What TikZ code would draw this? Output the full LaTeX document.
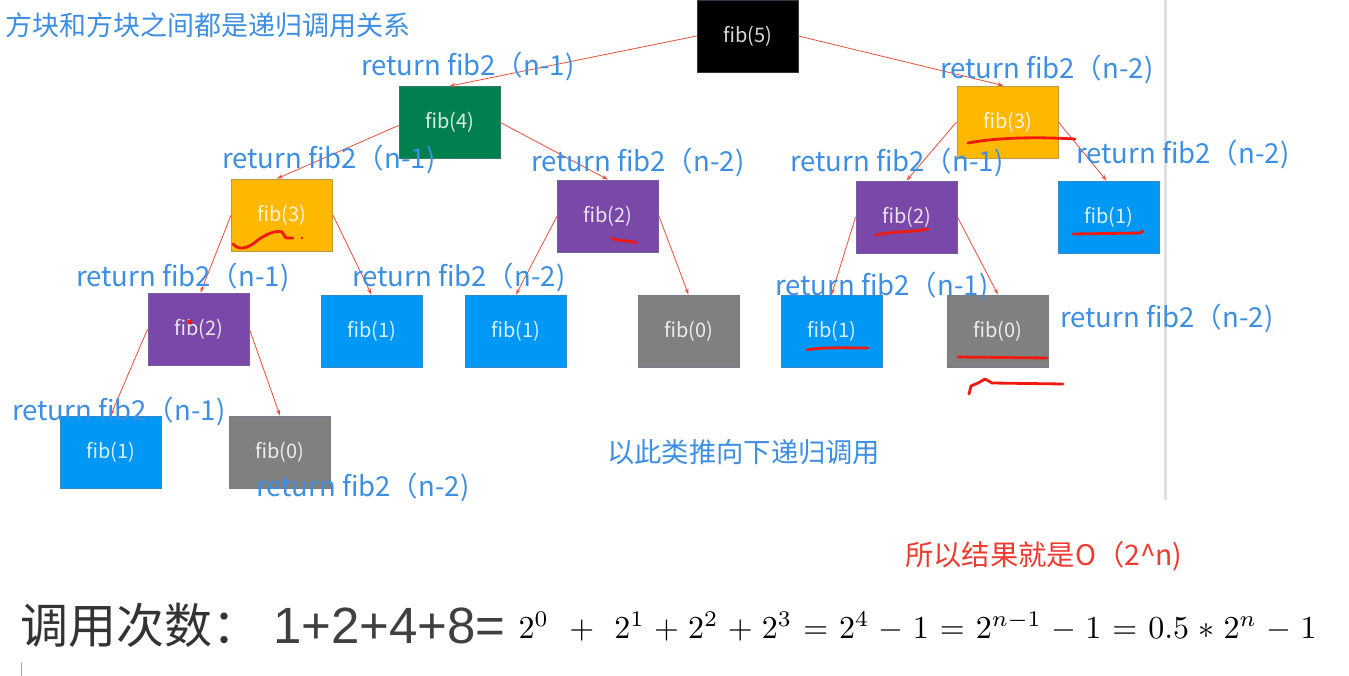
\documentclass[tikz,border=0pt]{standalone}
\usepackage{fontspec}
\newfontfamily\cjk{Noto Sans CJK SC}
\newfontfamily\arial{Liberation Sans}
\usetikzlibrary{arrows.meta}
\definecolor{lblue}{HTML}{3C8FE2}
\definecolor{cblack}{HTML}{000000}
\definecolor{cgreen}{HTML}{00804F}
\definecolor{corange}{HTML}{FFB800}
\definecolor{cpurple}{HTML}{7A48A8}
\definecolor{cblue}{HTML}{0097F5}
\definecolor{cgray}{HTML}{808080}
\definecolor{slate}{HTML}{6A7894}
\definecolor{ered}{HTML}{E8503C}
\definecolor{mred}{HTML}{F01A10}
\definecolor{rtext}{HTML}{F03A30}
\tikzset{
  fbox/.style={draw=#1!55!slate, fill=#1, line width=0.8pt, minimum width=101pt, minimum height=72pt, inner sep=0pt, font=\cjk\fontsize{20}{24}\selectfont, text=white!85!#1},
  edge/.style={draw=ered, line width=0.8pt, -{Stealth[length=6pt,width=4pt]}},
  lbl/.style={text=lblue, font=\cjk\fontsize{27.5}{32}\selectfont, inner sep=0pt, anchor=west},
  scribble/.style={draw=mred, line width=2.8pt, line cap=round, line join=round}
}
\begin{document}
\begin{tikzpicture}[x=1pt,y=-1pt]
\useasboundingbox (0,0) rectangle (1349,676);
\fill[white] (0,0) rectangle (1349,676);
% divider
\draw[gray!25, line width=3pt] (1165,0) -- (1165,500);
\draw[gray!70, line width=1pt] (21,663) -- (21,676);

% title
\node[lbl, font=\cjk\fontsize{27}{32}\selectfont] (title) at (5,25) {方块和方块之间都是递归调用关系};

% boxes
\node[fbox=cblack] (f5) at (747.5,36) {fib(5)};
\node[fbox=cgreen] (f4) at (449.5,122.5) {fib(4)};
\node[fbox=corange] (f3r) at (1007.5,122) {fib(3)};
\node[fbox=corange] (f3l) at (282,215) {fib(3)};
\node[fbox=cpurple] (f2m) at (608,216) {fib(2)};
\node[fbox=cpurple] (f2r) at (906.5,217) {fib(2)};
\node[fbox=cblue] (f1rt) at (1108.5,217) {fib(1)};
\node[fbox=cpurple] (f2l) at (198.5,329) {fib(2)};
\node[fbox=cblue] (f1a) at (371.5,331) {fib(1)};
\node[fbox=cblue] (f1b) at (516,331) {fib(1)};
\node[fbox=cgray] (f0a) at (688.5,331) {fib(0)};
\node[fbox=cblue] (f1c) at (831.5,331) {fib(1)};
\node[fbox=cgray] (f0b) at (998,331) {fib(0)};
\node[fbox=cblue] (f1d) at (110.5,452) {fib(1)};
\node[fbox=cgray] (f0c) at (280,452) {fib(0)};

% edges
\draw[edge] (f5.west) -- (f4.north);
\draw[edge] (f5.east) -- ([xshift=-4pt]f3r.north);
\draw[edge] ([yshift=-3pt]f4.west) -- ([xshift=-5pt]f3l.north);
\draw[edge] (f4.east) -- (f2m.north);
\draw[edge] (f3r.west) -- (f2r.north);
\draw[edge] (f3r.east) -- ([xshift=-2pt]f1rt.north);
\draw[edge] (f3l.west) -- ([xshift=2pt]f2l.north);
\draw[edge] (f3l.east) -- (f1a.north);
\draw[edge] (f2m.west) -- (f1b.north);
\draw[edge] (f2m.east) -- (f0a.north);
\draw[edge] (f2r.west) -- (f1c.north);
\draw[edge] (f2r.east) -- (f0b.north);
\draw[edge] (f2l.west) -- (f1d.north);
\draw[edge] (f2l.east) -- (f0c.north);

% labels
\node[lbl] (l1) at (361,66) {return fib2（n-1)};
\node[lbl] (l2) at (940,69) {return fib2（n-2)};
\node[lbl] (l3) at (222,159) {return fib2（n-1)};
\node[lbl] (l4) at (531,162) {return fib2（n-2)};
\node[lbl] (l5) at (790,162) {return fib2（n-1)};
\node[lbl] (l6) at (1076,154) {return fib2（n-2)};
\node[lbl] (l7) at (76,277) {return fib2（n-1)};
\node[lbl] (l8) at (352,277) {return fib2（n-2)};
\node[lbl] (l9) at (775,286) {return fib2（n-1)};
\node[lbl] (l10) at (1060,318) {return fib2（n-2)};
\node[lbl] (l11) at (12,411) {return fib2（n-1)};
\node[lbl] (l12) at (256,487) {return fib2（n-2)};

\node[lbl, font=\cjk\fontsize{27.3}{32}\selectfont] (next) at (607,452) {以此类推向下递归调用};
\node[lbl, text=rtext, font=\cjk\fontsize{28.3}{32}\selectfont] (res) at (905,556) {所以结果就是O（2\^{}n)};

% formula
\node[inner sep=0pt, anchor=base west, text=black!80, font=\cjk\fontsize{48}{52}\selectfont] (cnt) at (20,643) {调用次数：};
\node[inner sep=0pt, anchor=base west, text=black!75, font=\arial\fontsize{51}{54}\selectfont] (sum) at (273,643) {1+2+4+8=};
\node[inner sep=0pt, anchor=base west, scale=3.2] (math) at (518,638) {\medmuskip=5.2mu plus 2mu minus 4mu\thickmuskip=6.2mu plus 5mu$2^0\;+\;2^1+2^2+2^3=2^4-1=2^{n-1}-1=0.5*2^n-1$};

% hand-drawn red marks
\draw[scribble] (968,143) .. controls (1000,137) and (1040,137) .. (1075,139);
\draw[scribble] (233,244) .. controls (240,252) and (250,247) .. (258,240) .. controls (266,234) and (276,230) .. (282,232) -- (286,238) -- (293,238);
\fill[mred] (302,238) circle (1.3pt);
\draw[scribble] (612,238) .. controls (618,242) and (630,240) .. (636,243);
\draw[scribble] (876,235) .. controls (895,231) and (915,232) .. (928,229);
\draw[scribble] (1073,234) -- (1140,233) -- (1143,231);
\fill[mred] (190,322) circle (2.5pt);
\draw[scribble] (807,350) .. controls (820,347) and (850,348) .. (868,348);
\draw[scribble] (958,357) -- (1047,358);
\draw[scribble] (969,394) -- (971,386) -- (978,383) -- (985,379) -- (992,383) -- (1063,384);
\end{tikzpicture}
\end{document}
